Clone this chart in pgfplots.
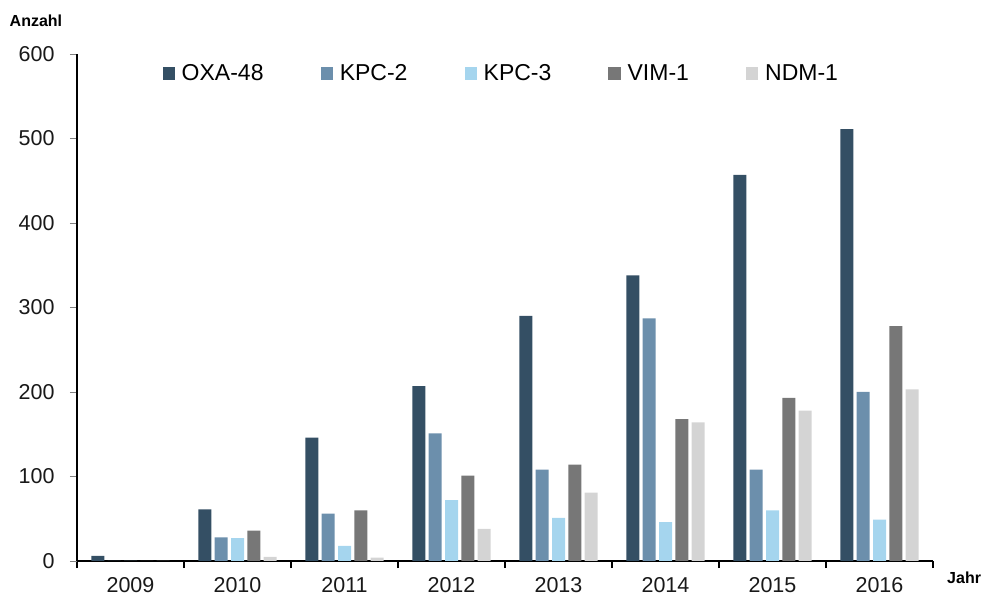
\documentclass[border=0pt]{standalone}
\usepackage{fontspec}
\setmainfont{Liberation Sans}
\usepackage{pgfplots}
\pgfplotsset{compat=1.18}
\definecolor{cOXA}{HTML}{344F64}
\definecolor{cKPCb}{HTML}{6C8FAC}
\definecolor{cKPCc}{HTML}{A5D5EE}
\definecolor{cVIM}{HTML}{777777}
\definecolor{cNDM}{HTML}{D4D4D4}
\newcommand\ticksize{\fontsize{21.5bp}{25bp}\selectfont}
\newcommand\legsize{\fontsize{23bp}{27bp}\selectfont}
\pgfplotsset{sq/.style={fill=#1, draw=none,
  legend image code/.code={\fill[#1] (0bp,-6.25bp) rectangle (12.5bp,6.25bp);}}}
\begin{document}
\begin{tikzpicture}
\useasboundingbox (0,0) rectangle (981bp,601bp);
\begin{axis}[
  at={(77bp,40bp)}, anchor=south west,
  scale only axis, width=856bp, height=507bp,
  xmin=-0.5, xmax=7.5, ymin=0, ymax=600,
  axis x line*=bottom, axis y line*=left,
  axis line style={line width=1.3bp, black, -},
  tick align=outside,
  major tick length=7bp,
  xtick={-0.5,0.5,...,7.5},
  xticklabels={2009,2010,2011,2012,2013,2014,2015,2016,{}},
  xticklabel style={xshift=53.5bp, yshift=-6bp, font=\ticksize, text=black!90},
  ytick={0,100,...,600},
  yticklabel style={xshift=-12bp, font=\ticksize, text=black!90},
  x tick style={black, line width=1.1bp},
  y tick style={gray, line width=0.9bp},
  /pgf/number format/assume math mode=true,
  ybar, bar width=0.1215,
  legend columns=5,
  legend style={draw=none, fill=none, inner sep=0pt,
    at={(0.0997,0.962)}, anchor=west, font=\legsize,
    nodes={inner sep=0pt},
    /tikz/every odd column/.append style={column sep=6.7bp},
    /tikz/every even column/.append style={column sep=57bp}},
]
\addplot[sq=cOXA, bar shift=-0.305] coordinates {(0,6) (1,61) (2,146) (3,207) (4,290) (5,338) (6,457) (7,511)};
\addplot[sq=cKPCb, bar shift=-0.1525] coordinates {(0,0) (1,28) (2,56) (3,151) (4,108) (5,287) (6,108) (7,200)};
\addplot[sq=cKPCc, bar shift=0] coordinates {(0,0) (1,27) (2,18) (3,72) (4,51) (5,46) (6,60) (7,49)};
\addplot[sq=cVIM, bar shift=0.1525] coordinates {(0,0) (1,36) (2,60) (3,101) (4,114) (5,168) (6,193) (7,278)};
\addplot[sq=cNDM, bar shift=0.305] coordinates {(0,0) (1,5) (2,4) (3,38) (4,81) (5,164) (6,178) (7,203)};
\legend{OXA-48,KPC-2,KPC-3,VIM-1,NDM-1}
\end{axis}
\node[anchor=base west, inner sep=0pt, font=\bfseries\fontsize{16bp}{19bp}\selectfont] at (9.5bp,574.3bp) {Anzahl};
\node[anchor=base west, inner sep=0pt, font=\bfseries\fontsize{16bp}{19bp}\selectfont] at (947bp,18bp) {Jahr};
\end{tikzpicture}
\end{document}
